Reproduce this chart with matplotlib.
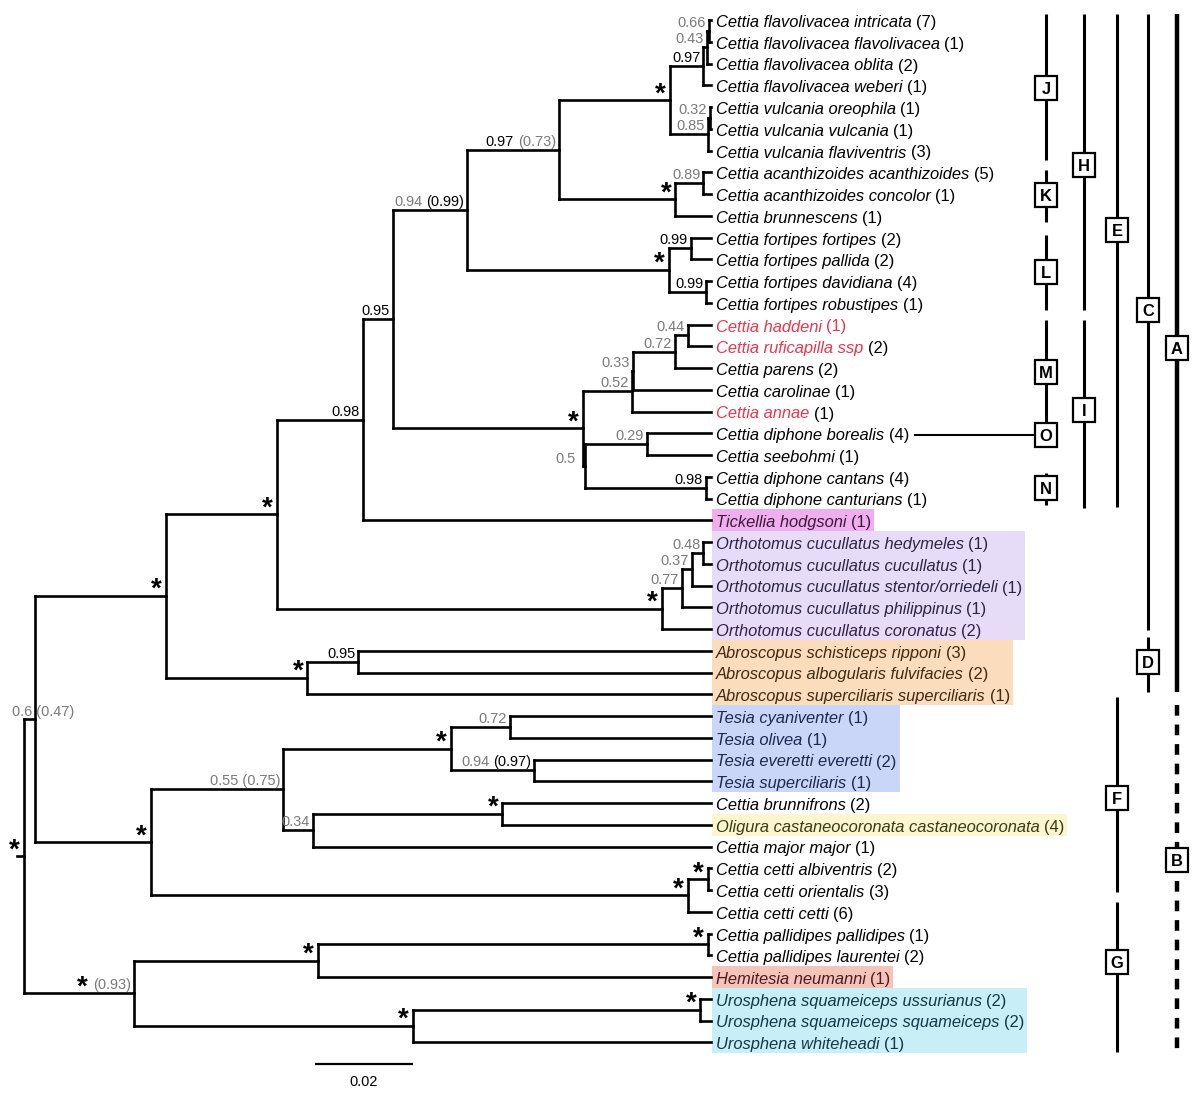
import matplotlib
matplotlib.use("Agg")
import matplotlib.pyplot as plt
from matplotlib import font_manager
from matplotlib.collections import LineCollection
from matplotlib.patches import Rectangle
from matplotlib.transforms import blended_transform_factory

# ---------------- data ----------------
leaf_names = [
    "Cettia flavolivacea intricata", "Cettia flavolivacea flavolivacea", "Cettia flavolivacea oblita",
    "Cettia flavolivacea weberi", "Cettia vulcania oreophila", "Cettia vulcania vulcania",
    "Cettia vulcania flaviventris", "Cettia acanthizoides acanthizoides", "Cettia acanthizoides concolor",
    "Cettia brunnescens", "Cettia fortipes fortipes", "Cettia fortipes pallida",
    "Cettia fortipes davidiana", "Cettia fortipes robustipes", "Cettia haddeni",
    "Cettia ruficapilla ssp", "Cettia parens", "Cettia carolinae", "Cettia annae",
    "Cettia diphone borealis", "Cettia seebohmi", "Cettia diphone cantans",
    "Cettia diphone canturians", "Tickellia hodgsoni",
    "Orthotomus cucullatus hedymeles", "Orthotomus cucullatus cucullatus",
    "Orthotomus cucullatus stentor/orriedeli", "Orthotomus cucullatus philippinus",
    "Orthotomus cucullatus coronatus", "Abroscopus schisticeps ripponi",
    "Abroscopus albogularis fulvifacies", "Abroscopus superciliaris superciliaris",
    "Tesia cyaniventer", "Tesia olivea", "Tesia everetti everetti", "Tesia superciliaris",
    "Cettia brunnifrons", "Oligura castaneocoronata castaneocoronata", "Cettia major major",
    "Cettia cetti albiventris", "Cettia cetti orientalis", "Cettia cetti cetti",
    "Cettia pallidipes pallidipes", "Cettia pallidipes laurentei", "Hemitesia neumanni",
    "Urosphena squameiceps ussurianus", "Urosphena squameiceps squameiceps", "Urosphena whiteheadi",
]
leaf_counts = [7, 1, 2, 1, 1, 1, 3, 5, 1, 1, 2, 2, 4, 1, 1, 2, 2, 1, 1, 4, 1, 4, 1, 1,
               1, 1, 1, 1, 2, 3, 2, 1, 1, 1, 2, 1, 2, 4, 1, 2, 3, 6, 1, 2, 1, 2, 2, 1]
leaf_parent = ["n066", "n066", "n043", "n097b", "n032", "n032", "n085", "n089", "n089", "nAc",
               "n099a", "n099a", "n099b", "n099b", "n044", "n044", "n072", "n033", "n052",
               "n029", "n029", "n098c", "n098c", "n098",
               "n048", "n048", "n037", "n077", "nOr", "n095b", "n095b", "nAb",
               "n072t", "n072t", "n094t", "n094t", "nBr", "nBr", "n034",
               "nCe2", "nCe2", "nCe", "nPa", "nPa", "nPH", "nUs", "nUs", "nUr"]
tip_depth = 0.1402

# internal nodes: id, parent, depth (substitutions/site from root), support label pieces
node_ids = ["root", "n06", "nBo", "nUp", "nLo", "nCT", "nAb", "n098", "nOr", "n095", "n094",
            "nDi", "n097a", "nFo", "nFV", "nAc", "n097b", "n085", "n043", "n066", "n032",
            "n089", "n099a", "n099b", "n052", "n05", "n033", "n072", "n044", "n029", "n098c",
            "n077", "n037", "n048", "n095b", "n055", "nCe", "nTe", "n034", "n072t", "n094t",
            "nBr", "nCe2", "nPH", "nUr", "nPa", "nUs"]
node_parent = [None, "root", "root", "n06", "n06", "nUp", "nUp", "nCT", "nCT", "n098", "n095",
               "n095", "n094", "n094", "n097a", "n097a", "nFV", "nFV", "n097b", "n043", "n085",
               "nAc", "nFo", "nFo", "nDi", "nDi", "n052", "n033", "n072", "n05", "n05",
               "nOr", "n077", "n037", "nAb", "nLo", "nLo", "n055", "n055", "nTe", "nTe",
               "n034", "nCe", "nBo", "nBo", "nPH", "nUr"]
node_depth = [0.0, 0.0022, 0.0224, 0.0290, 0.0259, 0.0516, 0.0578, 0.0692, 0.1302, 0.0753, 0.0904,
              0.1141, 0.1092, 0.1316, 0.1318, 0.1329, 0.1386, 0.1396, 0.1394, 0.1398, 0.1400,
              0.1386, 0.1361, 0.1392, 0.1241, 0.1145, 0.1243, 0.1329, 0.1355, 0.1271, 0.1392,
              0.1343, 0.1363, 0.1386, 0.0682, 0.0529, 0.1355, 0.0871, 0.0590, 0.0992, 0.1041,
              0.0976, 0.1396, 0.0600, 0.0794, 0.1396, 0.1380]
node_label = [
    [("*", "k")], [("0.6 (0.47)", "g")], [("*", "k"), ("(0.93)", "g")], [("*", "k")], [("*", "k")],
    [("*", "k")], [("*", "k")], [("0.98", "k")], [("*", "k")], [("0.95", "k")],
    [("0.94", "g"), ("(0.99)", "k")], [("*", "k")], [("0.97", "k"), ("(0.73)", "g")], [("*", "k")],
    [("*", "k")], [("*", "k")], [("0.97", "k")], [("0.85", "g")], [("0.43", "g")], [("0.66", "g")],
    [("0.32", "g")], [("0.89", "g")], [("0.99", "k")], [("0.99", "k")], [("0.52", "g")],
    [("0.5", "g")], [("0.33", "g")], [("0.72", "g")], [("0.44", "g")], [("0.29", "g")],
    [("0.98", "k")], [("0.77", "g")], [("0.37", "g")], [("0.48", "g")], [("0.95", "k")],
    [("0.55 (0.75)", "g")], [("*", "k")], [("*", "k")], [("0.34", "g")], [("0.72", "g")],
    [("0.94", "g"), ("(0.97)", "k")], [("*", "k")], [("*", "k")], [("*", "k")], [("*", "k")],
    [("*", "k")], [("*", "k")],
]

red_name_leaves = ["Cettia haddeni", "Cettia ruficapilla ssp", "Cettia annae"]
red_count_leaves = ["Cettia haddeni"]

# highlighted genera: first leaf, last leaf, fill, text colour
highlight_first = ["Tickellia hodgsoni", "Orthotomus cucullatus hedymeles", "Abroscopus schisticeps ripponi",
                   "Tesia cyaniventer", "Oligura castaneocoronata castaneocoronata", "Hemitesia neumanni",
                   "Urosphena squameiceps ussurianus"]
highlight_last = ["Tickellia hodgsoni", "Orthotomus cucullatus coronatus", "Abroscopus superciliaris superciliaris",
                  "Tesia superciliaris", "Oligura castaneocoronata castaneocoronata", "Hemitesia neumanni",
                  "Urosphena whiteheadi"]
highlight_fill = ["#f0aeee", "#e7dcf8", "#fbdcbc", "#c9d6f8", "#fbf6cd", "#f6c3bb", "#c8eef8"]
highlight_text = ["#3a1b3a", "#2c2644", "#3f2a12", "#1e2850", "#3b3a18", "#4b1e1e", "#113a46"]

# clade bars on the right (in leaf-row units)
bar_letters = ["J", "K", "L", "M", "O", "N", "H", "I", "E", "F", "G", "C", "D", "A", "B"]
bar_column = [0, 0, 0, 0, 0, 0, 1, 1, 2, 2, 2, 3, 3, 4, 4]
bar_start = [-0.28, 6.9, 9.89, 13.79, None, 20.83, -0.28, 13.79, -0.28, 31.13, 40.55, -0.28, 28.37, -0.28, 31.5]
bar_end = [6.44, 9.29, 13.33, 18.48, None, 22.3, 13.33, 22.44, 22.39, 40.09, 47.45, 28.05, 30.9, 30.9, 47.45]
bar_box = [3.13, 8.05, 11.59, 16.18, 19.08, 21.52, 6.67, 17.93, 9.66, 35.77, 43.31, 13.33, 29.52, 15.08, 38.62]
bar_dashed = [False] * 14 + [True]

scale_start = 0.0594
scale_length = 0.02
scale_row = 48.0

# ---------------- layout ----------------
W, H, DPI = 1200, 1094, 100
PX_PER_UNIT = 4900.0
ROOT_PX = 24.0
ROW0_PX, ROW_PX = 20.0, 21.75
col_px = [1046, 1084, 1117, 1148, 1177]

names = {f.name for f in font_manager.fontManager.ttflist}
if "Liberation Sans Narrow" in names:
    FAM, SC = ["Liberation Sans Narrow", "DejaVu Sans"], 1.0
else:
    FAM, SC = ["Liberation Sans", "DejaVu Sans"], 0.82
plt.rcParams["font.family"] = FAM
LEAF_FS = 14.5 * SC
SUP_FS = 12.7 * SC
STAR_FS = 20
BOX_FS = 14.5 * SC
GRAY = "#7a7a7a"

fig = plt.figure(figsize=(W / DPI, H / DPI), dpi=DPI)
ax = fig.add_axes([0, 0, 1, 1])
ax.set_xlim(-ROOT_PX / PX_PER_UNIT, (W - ROOT_PX) / PX_PER_UNIT)
ax.set_ylim((H - ROW0_PX) / ROW_PX, -ROW0_PX / ROW_PX)
ax.axis("off")
renderer = fig.canvas.get_renderer()
bt = blended_transform_factory(ax.transAxes, ax.transData)

depth = dict(zip(node_ids, node_depth))
parent = dict(zip(node_ids, node_parent))
children = {n: [] for n in node_ids}
for i, p in enumerate(leaf_parent):
    children[p].append(("leaf", i))
for n, p in zip(node_ids, node_parent):
    if p is not None:
        children[p].append(("node", n))

ycache = {}


def child_ys(n):
    return [c if k == "leaf" else node_y(c) for k, c in children[n]]


def node_y(n):
    if n not in ycache:
        ys = child_ys(n)
        ycache[n] = (min(ys) + max(ys)) / 2.0
    return ycache[n]


segs = []
for n in node_ids:
    y = node_y(n)
    ys = child_ys(n)
    segs.append([(depth[n], min(ys)), (depth[n], max(ys))])
    if parent[n] is not None:
        segs.append([(depth[parent[n]], y), (depth[n], y)])
for i, p in enumerate(leaf_parent):
    segs.append([(depth[p], i), (tip_depth, i)])
root_y = node_y("root")
segs.append([(-7 / PX_PER_UNIT, root_y), (0.0, root_y)])
ax.add_collection(LineCollection(segs, colors="black", linewidths=1.9, capstyle="projecting", zorder=3))

# ---- support labels ----
label_offset = {"n05": (-9, 3), "n06": (39, 3)}
for n, pieces in zip(node_ids, node_label):
    x0, y0 = depth[n], node_y(n)
    dx, dy = label_offset.get(n, (-3, 4))
    cur = dx
    for text, col in reversed(pieces):
        if text == "*":
            t = ax.annotate("*", xy=(x0, y0), xytext=(cur - 1, -1), textcoords="offset pixels",
                            ha="right", va="baseline", fontsize=STAR_FS, fontweight="bold",
                            family=["Liberation Sans", "DejaVu Sans"], color="black", zorder=5)
        else:
            t = ax.annotate(text, xy=(x0, y0), xytext=(cur, dy), textcoords="offset pixels",
                            ha="right", va="baseline", fontsize=SUP_FS,
                            color=GRAY if col == "g" else "black", zorder=5)
        cur -= t.get_window_extent(renderer).width + 4

# ---- leaf labels ----
row_right = {}
for i, (nm, cnt) in enumerate(zip(leaf_names, leaf_counts)):
    base = "black"
    for g, (a, b) in enumerate(zip(highlight_first, highlight_last)):
        if leaf_names.index(a) <= i <= leaf_names.index(b):
            base = highlight_text[g]
    ncol = "#e8374d" if nm in red_name_leaves else base
    ccol = "#e8374d" if nm in red_count_leaves else base
    t1 = ax.annotate(nm, xy=(tip_depth, i), xytext=(5, -7), textcoords="offset pixels",
                     ha="left", va="baseline", fontsize=LEAF_FS, fontstyle="italic", color=ncol, zorder=5)
    w1 = t1.get_window_extent(renderer).width
    t2 = ax.annotate("(%d)" % cnt, xy=(tip_depth, i), xytext=(5 + w1 + 4.5, -7), textcoords="offset pixels",
                     ha="left", va="baseline", fontsize=LEAF_FS, color=ccol, zorder=5)
    row_right[i] = t2.get_window_extent(renderer).x1

# ---- highlight boxes ----
for a, b, fc in zip(highlight_first, highlight_last, highlight_fill):
    ia, ib = leaf_names.index(a), leaf_names.index(b)
    right_px = max(row_right[k] for k in range(ia, ib + 1)) + 3
    left_px = ROOT_PX + tip_depth * PX_PER_UNIT + 1
    ax.add_patch(Rectangle((left_px / W, ia - 0.5), (right_px - left_px) / W, ib - ia + 1,
                           transform=bt, facecolor=fc, edgecolor="none", zorder=1))

# ---- clade bars ----
BOX_W, BOX_H = 22 / W, 24 / ROW_PX
for let, c, s, e, by, dsh in zip(bar_letters, bar_column, bar_start, bar_end, bar_box, bar_dashed):
    xf = col_px[c] / W
    if s is not None:
        lw = 3.2 if c == 4 else 2.2
        ax.plot([xf, xf], [s, e], transform=bt, color="black", lw=lw,
                linestyle=(0, (2.4, 2.0)) if dsh else "-", solid_capstyle="butt", zorder=3)
    ax.add_patch(Rectangle((xf - BOX_W / 2, by - BOX_H / 2), BOX_W, BOX_H, transform=bt,
                           facecolor="white", edgecolor="black", lw=1.6, zorder=6))
    ax.text(xf, by, let, transform=bt, ha="center", va="center_baseline", fontsize=BOX_FS,
            fontweight="bold", zorder=7)

# connector from borealis to box O
o_row = bar_box[bar_letters.index("O")]
ax.plot([915 / W, (col_px[0] - 11) / W], [o_row, o_row], transform=bt, color="black", lw=1.5, zorder=3)

# ---- scale bar ----
ax.plot([scale_start, scale_start + scale_length], [scale_row, scale_row], color="black", lw=1.6,
        solid_capstyle="butt")
ax.annotate("%.2f" % scale_length, xy=(scale_start + scale_length / 2, scale_row), xytext=(0, -22),
            textcoords="offset pixels", ha="center", va="baseline", fontsize=SUP_FS)

fig.savefig("out.png", dpi=DPI)
